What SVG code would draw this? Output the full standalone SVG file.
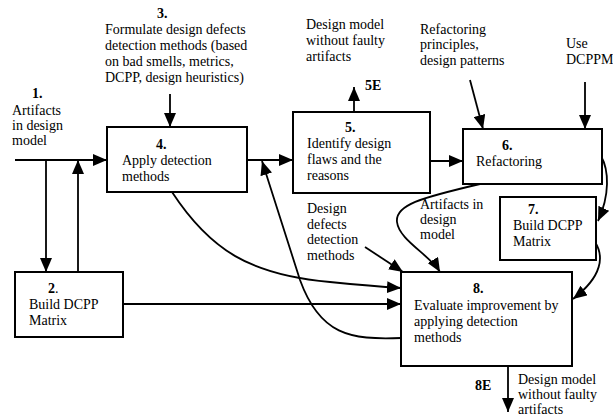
<svg xmlns="http://www.w3.org/2000/svg" width="613" height="417" viewBox="0 0 613 417">
<style>
text { font-family: "Liberation Serif", "Times New Roman", serif; font-size: 14px; fill: #000; }
.b { font-weight: bold; }
.box { fill: #fff; stroke: #000; stroke-width: 2; }
.ln { fill: none; stroke: #000; stroke-width: 1.8; }
.arr { marker-end: url(#ah); }
</style>
<defs>
<marker id="ah" markerUnits="userSpaceOnUse" markerWidth="14" markerHeight="12" refX="14" refY="6" orient="auto">
<path d="M0,0 L14,6 L0,12 z" fill="#000"/>
</marker>
</defs>
<rect width="613" height="417" fill="#fff"/>

<g id="connectors">
<path class="ln arr" d="M15,160 H107"/>
<path class="ln arr" d="M46,160 V272"/>
<path class="ln arr" d="M78,272 V160"/>
<path class="ln arr" d="M170,94 V127"/>
<path class="ln arr" d="M247,160 H293"/>
<path class="ln arr" d="M354,112 V87"/>
<path class="ln arr" d="M430,161 H463"/>
<path class="ln arr" d="M470,80 L483,129"/>
<path class="ln arr" d="M585,82 V129"/>
<path class="ln arr" d="M601,156 C609,170 610,195 598,221"/>
<path class="ln arr" d="M595,242 C604,256 603,276 573,299"/>
<path class="ln arr" d="M480,184 C420,198 395,205 397,222 C399,240 430,255 440,272"/>
<path class="ln arr" d="M365,247 L403,272"/>
<path class="ln arr" d="M172,192 C210,250 250,275 330,282 C360,285 385,287 401,288"/>
<path class="ln arr" d="M123,304 H401"/>
<path class="ln arr" d="M401,338 C350,340 320,335 300,280 L262,161"/>
<path class="ln arr" d="M508,366 V412"/>
</g>

<g id="n3">
<text class="b" x="157" y="18">3.</text>
<text x="105" y="34">Formulate design defects</text>
<text x="105" y="50">detection methods (based</text>
<text x="105" y="66">on bad smells, metrics,</text>
<text x="105" y="82">DCPP, design heuristics)</text>
</g>

<g id="n1">
<text class="b" x="32" y="98">1.</text>
<text x="12" y="115">Artifacts</text>
<text x="12" y="130">in design</text>
<text x="12" y="145">model</text>
</g>

<g id="n4">
<rect class="box" x="107" y="127" width="140" height="65"/>
<text class="b" x="156" y="149">4.</text>
<text x="122" y="165">Apply detection</text>
<text x="122" y="181">methods</text>
</g>

<g id="n2">
<rect class="box" x="15" y="272" width="108" height="65"/>
<text x="48" y="293"><tspan class="b">2</tspan>.</text>
<text x="29" y="309">Build DCPP</text>
<text x="29" y="325">Matrix</text>
</g>

<g id="n5">
<rect class="box" x="293" y="112" width="137" height="81"/>
<text class="b" x="345" y="132">5.</text>
<text x="307" y="148">Identify design</text>
<text x="307" y="164">flaws and the</text>
<text x="307" y="180">reasons</text>
</g>

<g id="n5e">
<text x="306" y="29">Design model</text>
<text x="306" y="45">without faulty</text>
<text x="306" y="61">artifacts</text>
<text class="b" x="365" y="90">5E</text>
</g>

<g id="refprin">
<text x="420" y="34">Refactoring</text>
<text x="420" y="49">principles,</text>
<text x="420" y="65">design patterns</text>
</g>

<g id="useDCPPM">
<text x="566" y="48">Use</text>
<text x="566" y="64">DCPPM</text>
</g>

<g id="n6">
<rect class="box" x="463" y="129" width="139" height="55"/>
<text class="b" x="502" y="150">6.</text>
<text x="476" y="166">Refactoring</text>
</g>

<g id="n7">
<rect class="box" x="500" y="197" width="96" height="63"/>
<text class="b" x="528" y="214">7.</text>
<text x="513" y="230">Build DCPP</text>
<text x="513" y="246">Matrix</text>
</g>

<g id="artlabel">
<text x="420" y="209">Artifacts in</text>
<text x="420" y="224">design</text>
<text x="420" y="239">model</text>
</g>

<g id="ddlabel">
<text x="307" y="213">Design</text>
<text x="307" y="229">defects</text>
<text x="307" y="244">detection</text>
<text x="307" y="260">methods</text>
</g>

<g id="n8">
<rect class="box" x="401" y="272" width="171" height="94"/>
<text class="b" x="473" y="293">8.</text>
<text x="414" y="310">Evaluate improvement by</text>
<text x="414" y="326">applying detection</text>
<text x="414" y="342">methods</text>
</g>

<g id="n8e">
<text class="b" x="475" y="390">8E</text>
<text x="518" y="384">Design model</text>
<text x="518" y="399">without faulty</text>
<text x="518" y="414">artifacts</text>
</g>
</svg>
